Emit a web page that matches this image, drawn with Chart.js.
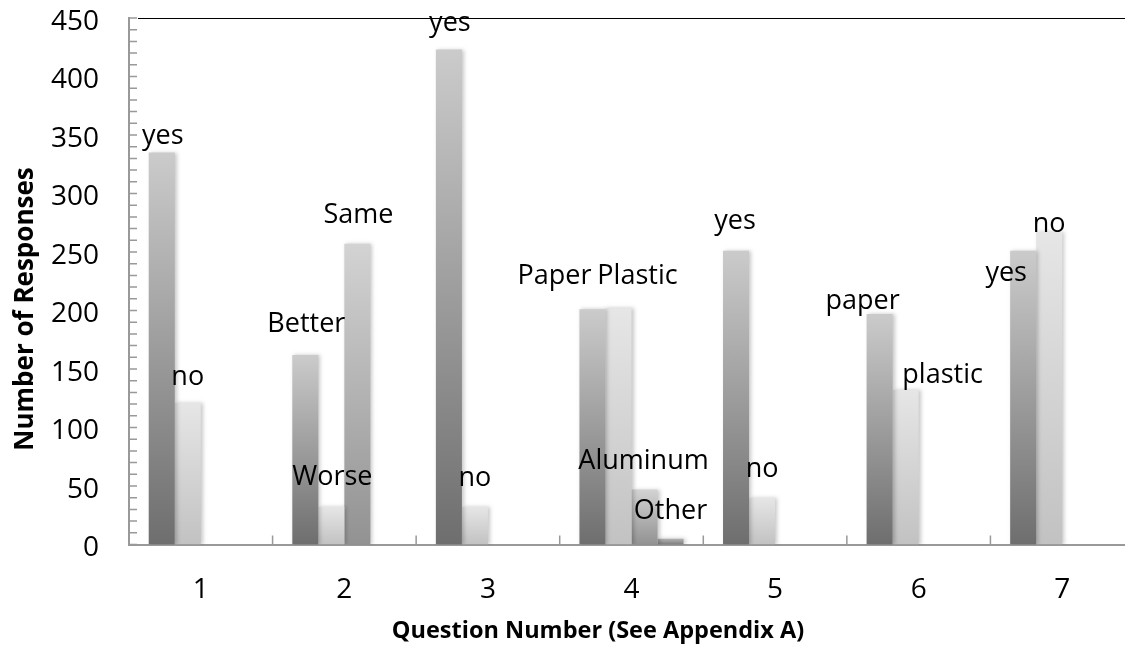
<!DOCTYPE html>
<html>
<head>
<meta charset="utf-8">
<script src="https://cdn.jsdelivr.net/npm/chart.js@4.4.1/dist/chart.umd.min.js"></script>
<style>
  html, body { margin: 0; padding: 0; background: #fff; overflow: hidden; }
  #wrap { position: relative; width: 1136px; height: 651px; }
</style>
</head>
<body>
<div id="wrap"><canvas id="respostas"></canvas></div>
<script>
  // dados
  const categories = ['1', '2', '3', '4', '5', '6', '7'];
  const serie1 = [335, 162, 423, 201, 251, 197, 251];
  const serie2 = [121, 32, 32, 202, 40, 132, 267];
  const serie3 = [null, 257, null, 47, null, null, null];
  const serie4 = [null, null, null, 5, null, null, null];

  const rotulos1 = ['yes', 'Better', 'yes', 'Paper', 'yes', 'paper', 'yes'];
  const rotulos2 = ['no', 'Worse', 'no', 'Plastic', 'no', 'plastic', 'no'];
  const rotulos3 = [null, 'Same', null, 'Aluminum', null, null, null];
  const rotulos4 = [null, null, null, 'Other', null, null, null];

  const yTicks = [0, 50, 100, 150, 200, 250, 300, 350, 400, 450];

  const tituloX = 'Question Number (See Appendix A)';
  const tituloY = 'Number of Responses';

  // deslocamento dos rótulos (dx, dy) em relação ao topo da barra
  const ajusteRotulos = [
    [[1, -9], [1, -23], [1, -19], [-38, -25], [-1, -22], [-17, -5], [-17, 30]],
    [[0, -18], [1, -22], [0, -21], [19, -24], [0, -21], [37, -7], [0, 0]],
    [null, [1, -21], null, [-1, -21], null, null, null],
    [null, null, null, [0, -20], null, null, null]
  ];
  const rotulos = [rotulos1, rotulos2, rotulos3, rotulos4];

  const fonte = "'Open Sans', sans-serif";

  function gradiente(topo, base) {
    return (ctx) => {
      const chart = ctx.chart;
      const v = ctx.raw;
      if (!chart.chartArea || v == null) return base;
      const y = chart.scales.y;
      const g = chart.ctx.createLinearGradient(0, y.getPixelForValue(v), 0, y.getPixelForValue(0));
      g.addColorStop(0, topo);
      g.addColorStop(1, base);
      return g;
    };
  }

  const sombraPlugin = {
    id: 'sombra',
    beforeDatasetsDraw(chart) {
      const c = chart.ctx;
      c.save();
      c.shadowColor = 'rgba(0,0,0,0.22)';
      c.shadowBlur = 4;
      c.shadowOffsetX = 2;
    },
    afterDatasetsDraw(chart) {
      chart.ctx.restore();
    }
  };

  const eixosPlugin = {
    id: 'eixos',
    afterDraw(chart) {
      const c = chart.ctx;
      const { left, right, top, bottom } = chart.chartArea;
      const y = chart.scales.y;
      c.save();
      // linha superior
      c.strokeStyle = '#000';
      c.lineWidth = 1;
      c.beginPath();
      c.moveTo(138, top + 0.5);
      c.lineTo(right, top + 0.5);
      c.stroke();

      // marcas do eixo y (a cada 10)
      c.strokeStyle = '#999';
      c.lineWidth = 1.5;
      c.beginPath();
      for (let v = 0; v <= 450; v += 10) {
        const py = y.getPixelForValue(v);
        c.moveTo(left, py);
        c.lineTo(left + 8, py);
      }
      // marcas entre categorias
      const larg = (right - left) / categories.length;
      for (let i = 1; i < categories.length; i++) {
        const px = left + i * larg;
        c.moveTo(px, bottom);
        c.lineTo(px, bottom - 9);
      }
      c.stroke();

      // valores do eixo y, um pouco abaixo da marca
      c.fillStyle = '#000';
      c.font = "28px " + fonte;
      c.textAlign = 'right';
      c.textBaseline = 'middle';
      yTicks.forEach(v => c.fillText(String(v), 99, y.getPixelForValue(v) + 4));

      // rótulos das barras
      c.font = "27px " + fonte;
      c.textAlign = 'center';
      c.textBaseline = 'alphabetic';
      chart.data.datasets.forEach((ds, di) => {
        const meta = chart.getDatasetMeta(di);
        meta.data.forEach((bar, i) => {
          const txt = rotulos[di][i];
          if (!txt || ds.data[i] == null) return;
          const aj = ajusteRotulos[di][i] || [0, 0];
          c.fillText(txt, bar.x + aj[0], bar.y + aj[1]);
        });
      });

      // títulos dos eixos
      c.font = "bold 23.5px " + fonte;
      c.fillText(tituloX, 598, 638);
      c.font = "bold 26px " + fonte;
      c.translate(33, 309);
      c.rotate(-Math.PI / 2);
      c.fillText(tituloY, 0, 0);
      c.restore();
    }
  };

  new Chart(document.getElementById('respostas'), {
    type: 'bar',
    data: {
      labels: categories,
      datasets: [
        { label: 'serie1', data: serie1, backgroundColor: gradiente('#cbcbcb', '#6e6e6e') },
        { label: 'serie2', data: serie2, backgroundColor: gradiente('#e6e6e6', '#c2c2c2') },
        { label: 'serie3', data: serie3, backgroundColor: gradiente('#d3d3d3', '#929292') },
        { label: 'serie4', data: serie4, backgroundColor: gradiente('#b4b4b4', '#7c7c7c') }
      ]
    },
    options: {
      responsive: true,
      maintainAspectRatio: false,
      animation: false,
      datasets: { bar: { categoryPercentage: 0.725, barPercentage: 1, borderWidth: 0 } },
      layout: { padding: { top: 18, right: 2, bottom: 0, left: 0 } },
      plugins: {
        legend: { display: false },
        tooltip: { enabled: false },
        title: { display: false }
      },
      scales: {
        x: {
          grid: { display: false, drawTicks: false },
          border: { display: true, color: '#999', width: 2 },
          ticks: { color: '#000', font: { family: fonte, size: 28 }, padding: 29, maxRotation: 0 },
          afterFit: (s) => { s.height = 106.5; s.paddingLeft = 0; s.paddingRight = 0; }
        },
        y: {
          min: 0,
          max: 450,
          grid: { display: false, drawTicks: false },
          border: { display: true, color: '#999', width: 2 },
          afterBuildTicks: (s) => { s.ticks = yTicks.map(v => ({ value: v })); },
          ticks: { display: false },
          afterFit: (s) => { s.width = 129; s.paddingTop = 0; s.paddingBottom = 0; }
        }
      }
    },
    plugins: [sombraPlugin, eixosPlugin]
  });
</script>
</body>
</html>
